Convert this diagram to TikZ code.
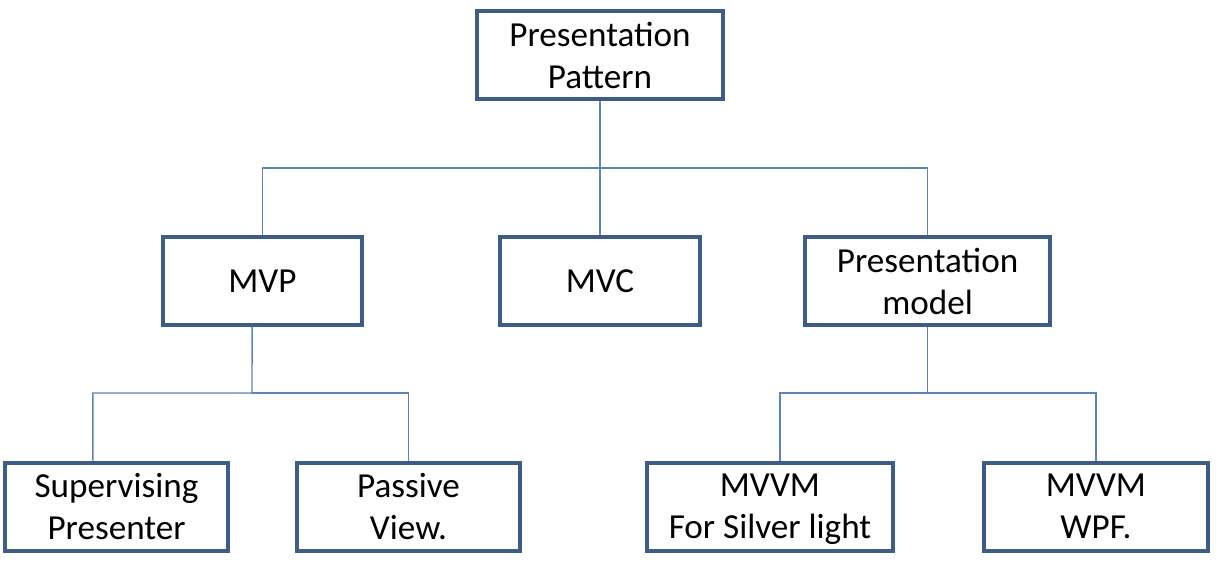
\documentclass[tikz,border=0pt]{standalone}
\usepackage{fontspec}
\setmainfont{Carlito}
\usetikzlibrary{backgrounds}
\definecolor{boxline}{HTML}{3D5D88}
\definecolor{linkline}{HTML}{5B84B8}
\tikzset{
  pbox/.style={rectangle, draw=boxline, line width=2.85pt, align=center,
    minimum height=2.2cm, inner sep=0pt, text depth=0pt,
    font=\fontsize{25}{30}\selectfont},
  link/.style={draw=linkline, line width=1pt}
}
\begin{document}
\begin{tikzpicture}
    \useasboundingbox (0,0) rectangle (30.425,14.075);
    % boxes
    \node[pbox,minimum width=6.15cm] (pp) at (15,12.7) {Presentation\\Pattern};
    \node[pbox,minimum width=4.975cm] (mvp) at (6.5625,7.05) {MVP};
    \node[pbox,minimum width=5cm] (mvc) at (15,7.05) {MVC};
    \node[pbox,minimum width=6.125cm] (pm) at (23.19,7.05) {Presentation\\model};
    \node[pbox,minimum width=5.575cm] (sp) at (2.9125,1.4125) {Supervising\\Presenter};
    \node[pbox,minimum width=5.575cm] (pv) at (10.2125,1.4125) {Passive\\View.};
    \node[pbox,minimum width=6.15cm] (sl) at (19.25,1.4125) {MVVM\\For Silver light};
    \node[pbox,minimum width=5.6cm] (wpf) at (27.4,1.4125) {MVVM\\WPF.};
    % forks
    \coordinate (fork1) at (15,9.875);
    \coordinate (fork2) at (6.3,4.25);
    \coordinate (fork3) at (23.19,4.25);
    \begin{scope}[on background layer]
    \draw[link] (pp.south) -- (fork1) -| (mvp.north);
    \draw[link] (fork1) -| (pm.north);
    \draw[link] (fork1) -- (mvc.north);
    \draw[link] ([xshift=-0.26cm]mvp.south) -- (fork2) -| ([xshift=-0.59cm]sp.north);
    \draw[link] (fork2) -| (pv.north);
    \draw[link] (pm.south) -- (fork3) -| ([xshift=0.25cm]sl.north);
    \draw[link] (fork3) -| (wpf.north);
    \end{scope}
  \end{tikzpicture}
\end{document}
